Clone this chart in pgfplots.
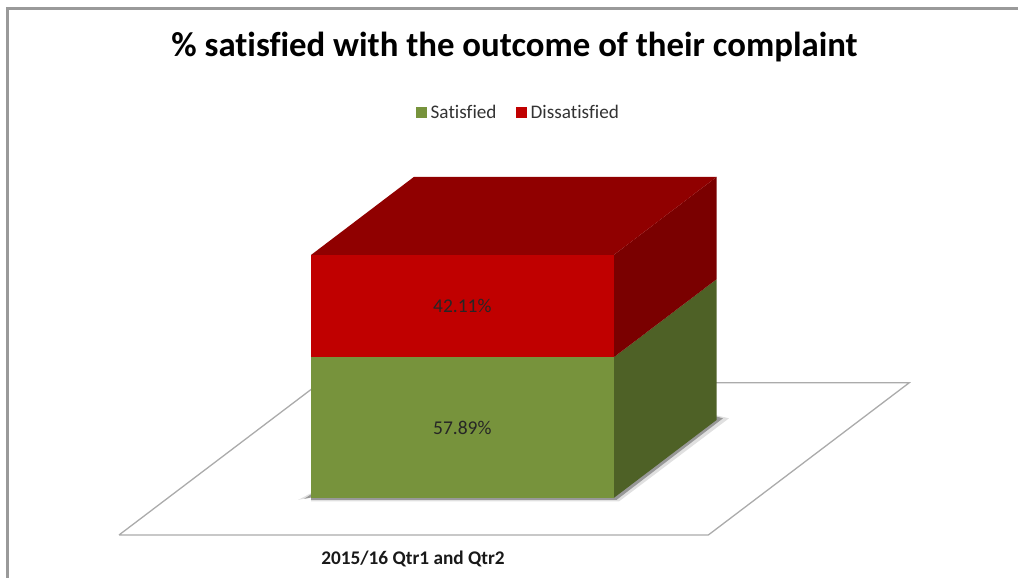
\documentclass[border=0pt]{standalone}
\usepackage{pgfplots}
\pgfplotsset{compat=1.18}
\usepackage{fontspec}
\setmainfont[Ligatures=NoCommon]{Carlito}
\definecolor{okgreen}{HTML}{77933C}
\definecolor{okgreenside}{HTML}{4E6126}
\definecolor{okred}{HTML}{C00000}
\definecolor{okredtop}{HTML}{900000}
\definecolor{okredside}{HTML}{7A0000}
\definecolor{floorline}{HTML}{ABABAB}
\definecolor{frameline}{HTML}{9A9A9A}
\pgfplotsset{square key/.style={legend image code/.code={\fill[fill=#1,draw=none] (0pt,-5.5pt) rectangle (11pt,5.5pt);}}}
\begin{document}
\begin{tikzpicture}
\path[use as bounding box] (0,0) rectangle (1018pt,578pt);
\begin{axis}[
  at={(0,0)}, anchor=south west,
  width=1018pt, height=578pt, scale only axis,
  xmin=0, xmax=1018, ymin=-32.92, ymax=204.94,
  axis line style={draw=none},
  xtick=\empty, ytick=\empty,
  title={\textbf{\% satisfied with the outcome of their complaint}},
  title style={at={(rel axis cs:0.5054,0.9075)}, anchor=center, font=\fontsize{34.8}{40}\selectfont},
  xlabel={\textbf{2015/16 Qtr1 and Qtr2}},
  xlabel style={at={(rel axis cs:0.4057,0.0325)}, anchor=center, font=\fontsize{19.3}{22}\selectfont, text=black!90},
  legend style={at={(axis cs:518.3,158.5)}, anchor=center, draw=none, fill=none,
    legend columns=2, font=\fontsize{19.2}{22}\selectfont, text=black!80,
    /tikz/every odd column/.append style={column sep=2pt},
    /tikz/every even column/.append style={column sep=17pt},
    inner sep=0pt, outer sep=0pt},
]
% chart frame, top and left edges
\addplot[frameline, line width=2.2pt, forget plot] coordinates {(7.5,-32.92) (7.5,201.4) (1018,201.4)};
% floor of the 3D plot
\addplot[floorline, line width=1.3pt, forget plot] coordinates {(119,-15.23) (708.3,-15.23) (909.3,47.45) (320,47.45) (119,-15.23)};
% soft contact shadow under the column
\addplot[fill=black, fill opacity=.12, draw=none, forget plot] coordinates {(298,-0.8) (311,2) (311,-1.4) (619,-1.4) (729,32.8) (716.5,34)} --cycle;
\addplot[fill=black, fill opacity=.32, draw=none, forget plot] coordinates {(304,-0.4) (311,1.5) (311,-0.8) (616.5,-0.8) (723,32.8) (716.5,33.5)} --cycle;
% side faces and top of the column
\addplot[fill=okgreenside, draw=none, forget plot] coordinates {(613.7,0) (716.5,32.1) (716.5,89.99) (613.7,57.89)} --cycle;
\addplot[fill=okredside, draw=none, forget plot] coordinates {(613.7,57.89) (716.5,89.99) (716.5,132.1) (613.7,100)} --cycle;
\addplot[fill=okredtop, draw=none, forget plot] coordinates {(311,100) (613.7,100) (716.5,132.1) (413.8,132.1)} --cycle;
% front faces, stacked
\addplot[ybar stacked, bar width=302.7, fill=okgreen, draw=none, square key=okgreen] coordinates {(462.35,57.89)};
\addlegendentry{Satisfied}
\addplot[ybar stacked, bar width=302.7, fill=okred, draw=none, square key=okred] coordinates {(462.35,42.11)};
\addlegendentry{Dissatisfied}
\node[font=\fontsize{19.5}{22}\selectfont, text=black!85] at (axis cs:462.35,28.9) {57.89\%};
\node[font=\fontsize{19.5}{22}\selectfont, text=black!85] at (axis cs:462.35,78.9) {42.11\%};
\end{axis}
\end{tikzpicture}
\end{document}
